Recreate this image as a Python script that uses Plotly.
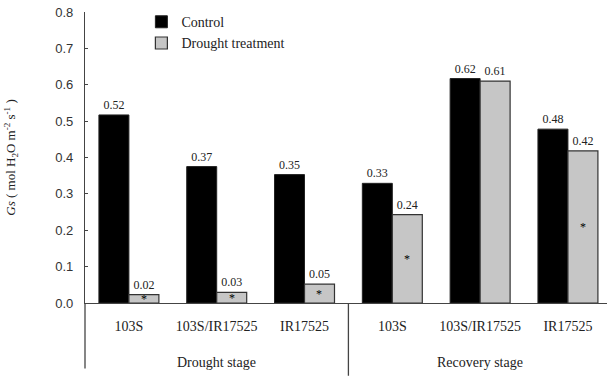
import plotly.graph_objects as go

categories = ["103S", "103S/IR17525", "IR17525", "103S", "103S/IR17525", "IR17525"]
stages = ["Drought stage", "Recovery stage"]
control = [0.517, 0.375, 0.353, 0.329, 0.617, 0.478]
drought = [0.023, 0.029, 0.052, 0.243, 0.610, 0.418]
control_labels = ["0.52", "0.37", "0.35", "0.33", "0.62", "0.48"]
drought_labels = ["0.02", "0.03", "0.05", "0.24", "0.61", "0.42"]
significance = ["*", "*", "*", "*", "", "*"]

xpos = list(range(len(categories)))
serif = "Liberation Serif"
sans = "Liberation Sans"

fig = go.Figure()
fig.add_trace(go.Bar(
    x=xpos, y=control, name="Control",
    marker=dict(color="#000000", line=dict(color="#222222", width=1)),
    text=control_labels, textposition="outside", cliponaxis=False,
    textfont=dict(family=serif, size=12, color="#222222"),
))
fig.add_trace(go.Bar(
    x=xpos, y=drought, name="Drought treatment",
    marker=dict(color="#c6c6c6", line=dict(color="#333333", width=1.2)),
    text=drought_labels, textposition="outside", cliponaxis=False,
    textfont=dict(family=serif, size=12, color="#222222"),
))

annotations = []
for i, (v, s) in enumerate(zip(drought, significance)):
    if s:
        annotations.append(dict(x=i + 0.17, y=v / 2, xref="x", yref="y", text=s,
                                showarrow=False, font=dict(family=serif, size=12, color="#000000"),
                                yanchor="middle"))
for k, st in enumerate(stages):
    annotations.append(dict(x=1 + 3 * k, y=-0.203, xref="x", yref="paper", text=st,
                            showarrow=False, font=dict(family=serif, size=14, color="#222222"),
                            yanchor="middle"))

fig.update_layout(
    width=607, height=378,
    margin=dict(l=85, r=0, t=12, b=75),
    paper_bgcolor="white", plot_bgcolor="white",
    barmode="group", bargap=0.317, bargroupgap=0,
    showlegend=True,
    legend=dict(x=0.108, y=1.02, xanchor="left", yanchor="top",
                font=dict(family=serif, size=14, color="#222222"),
                bgcolor="rgba(0,0,0,0)", tracegroupgap=0, itemwidth=30),
    annotations=annotations,
    shapes=[
        dict(type="line", xref="paper", yref="paper", x0=0, x1=0, y0=0, y1=-0.225,
             line=dict(color="#444444", width=1.3)),
        dict(type="line", xref="x", yref="paper", x0=2.5, x1=2.5, y0=0, y1=-0.25,
             line=dict(color="#444444", width=1.3)),
    ],
)
fig.update_xaxes(
    range=[-0.5, 5.445], tickvals=xpos, ticktext=categories,
    showline=True, linecolor="#444444", linewidth=1.3, ticks="",
    showgrid=False, zeroline=False, ticklabelstandoff=10,
    tickfont=dict(family=serif, size=14, color="#222222"),
)
fig.update_yaxes(
    range=[0, 0.8], dtick=0.1, tickformat=".1f",
    showline=True, linecolor="#444444", linewidth=1.3,
    ticks="inside", ticklen=3, tickcolor="#444444",
    showgrid=False, zeroline=False, ticklabelstandoff=8,
    tickfont=dict(family=sans, size=13, color="#333333"),
    title=dict(text="<i>Gs</i> ( mol H<sub>2</sub>O m<sup>-2</sup> s<sup>-1</sup> )",
               font=dict(family=serif, size=13, color="#222222"), standoff=36),
)

fig.write_html("out.html", config={"displayModeBar": False},
               post_script="document.body.style.margin='0';")
